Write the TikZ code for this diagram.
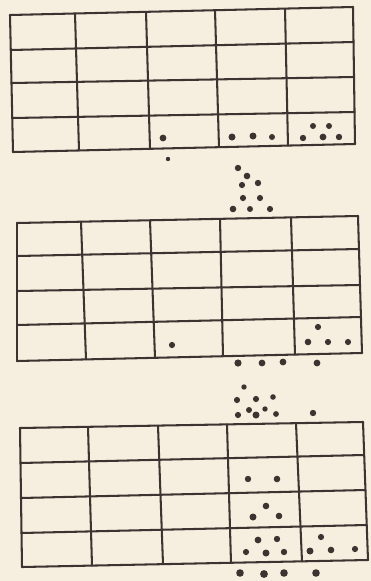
\documentclass[tikz,border=0pt]{standalone}
\usepackage{tikz}
\definecolor{paper}{HTML}{F6EFDF}
\definecolor{ink}{HTML}{3D3330}
\tikzset{gridline/.style={ink, line width=1.4}}

\begin{document}
\begin{tikzpicture}[x=0.024cm, y=0.024cm, line cap=round, line join=round]
  % paper
  \fill[paper] (0,0) rectangle (371,-581);
  \useasboundingbox (0,0) rectangle (371,-581);
  % top table
  \foreach \xa/\ya/\xb/\yb in {10/15/13/152, 75/13.5/79/150.5, 146/11.8/150/148.8, 215/10.2/219/147.2, 285/8.6/288/145.6, 353/7/355/144,
      10/15/353/7, 10.8/50/353.5/42, 11.5/83/354/77, 12.3/118/354.5/112, 13/152/355/144} {
    \draw[gridline] (\xa,-\ya) -- (\xb,-\yb);
  }
  % middle table
  \foreach \xa/\ya/\xb/\yb in {17/223/17/361, 81/221.7/86/359.4, 150/220.3/155/357.8, 220/218.8/223/356.2, 291/217.4/295/354.6, 358/216/362/353,
      17/223/358/216, 17/256/359/249, 17/291/360/285, 17/325/361/317, 17/361/362/353} {
    \draw[gridline] (\xa,-\ya) -- (\xb,-\yb);
  }
  % bottom table
  \foreach \xa/\ya/\xb/\yb in {20/428/22/567, 88/426.8/92/565.6, 158/425.6/163/564.2, 227/424.4/231/562.9, 296/423.2/302/561.4, 363/422/368/560,
      20/428/363/422, 20.5/463/364/455, 21/498/365.5/490, 21.5/533/366.5/525, 22/567/368/560} {
    \draw[gridline] (\xa,-\ya) -- (\xb,-\yb);
  }
  % dots in the top table
  \foreach \x/\y/\r in {163/138/3.4, 232/137/3.5, 253/136/3.5, 272/137/3,
      313/126/3, 329/126/3, 303/138/3.2, 323/137/3.4, 339/137/3.2} {
    \fill[ink] (\x,-\y) circle (\r);
  }
  % falling dots between top and middle
  \foreach \x/\y/\r in {168/159/2.2, 238/168/3.2, 247/176/3.3, 242/185/3.1, 258/183/3.2,
      243/198/3.1, 260/198/3.1, 233/209/3.3, 250/209/3, 270/209/3.1} {
    \fill[ink] (\x,-\y) circle (\r);
  }
  % dots in the middle table
  \foreach \x/\y/\r in {172/345/3.1, 318/327/3.1, 308/342/3.3, 328/342/3.1, 348/342/3.1} {
    \fill[ink] (\x,-\y) circle (\r);
  }
  % falling dots between middle and bottom
  \foreach \x/\y/\r in {238/363/3.6, 262/363/3.4, 283/362/3.4, 317/363/3.4,
      244/387/2.7, 237/400/3.1, 256/399/3.1, 273/397/2.8, 249/410/3, 265/409/2.7,
      238/415/3.1, 256/415/3.5, 276/414/2.9, 313/413/3.2} {
    \fill[ink] (\x,-\y) circle (\r);
  }
  % dots in the bottom table
  \foreach \x/\y/\r in {248/479/3.2, 277/479/3.3, 266/506/3.3, 253/517/3.5, 279/516/3.3,
      258/540/3.4, 277/539/3.2, 246/552/3.1, 266/553/3.5, 284/552/3.2,
      321/537/3.1, 310/551/3.5, 331/550/3.3, 355/549/3.1} {
    \fill[ink] (\x,-\y) circle (\r);
  }
  % dots below the bottom table
  \foreach \x/\y/\r in {240/573/3.8, 264/574/3.9, 284/573/3.8, 316/573/3.8} {
    \fill[ink] (\x,-\y) circle (\r);
  }
\end{tikzpicture}
\end{document}
